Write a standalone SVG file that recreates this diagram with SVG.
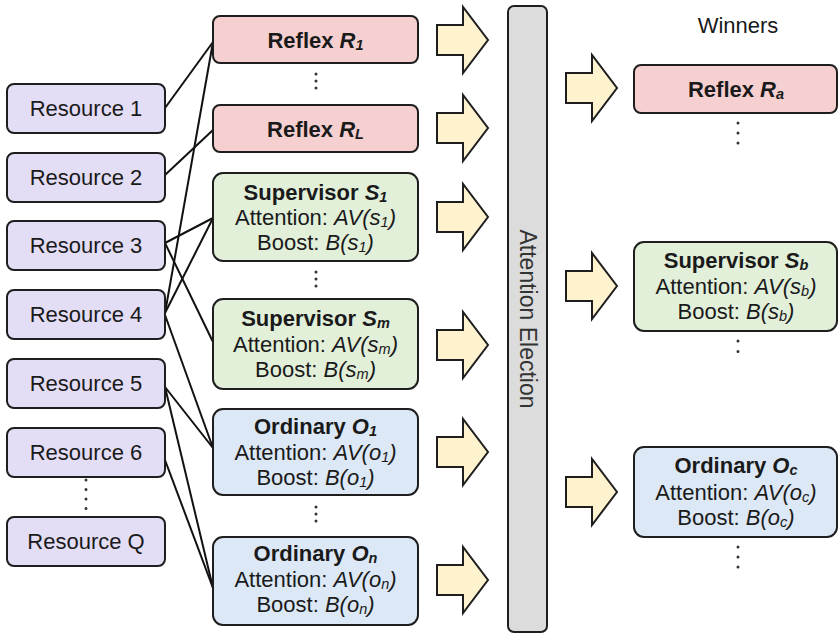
<svg xmlns="http://www.w3.org/2000/svg" width="839" height="634" viewBox="0 0 839 634">
<style>
.t{font-family:"Liberation Sans",Arial,sans-serif;font-size:22px;fill:#1a1a1a;text-anchor:middle}
.b{font-weight:bold}
.i{font-style:italic}
.sub{font-size:14.5px}
.box{stroke:#1e1e1e;stroke-width:2}
.res{fill:#e3ddf6}
.ref{fill:#f6d0d0}
.sup{fill:#e2f0da}
.ord{fill:#dce8f5}
.arr{fill:#fff3cf;stroke:#1e1e1e;stroke-width:2;stroke-linejoin:miter}
.con{stroke:#111;stroke-width:2;fill:none}
.dots{stroke:#333;stroke-width:3;stroke-linecap:round;stroke-dasharray:0 7;fill:none}
</style>
<defs>
<path id="bigarrow" d="M0,-15 H26 V-33 L51,0 L26,33 V15 H0 Z"/>
</defs>

<g id="connectors">
<line class="con" x1="165" y1="108" x2="213" y2="42"/>
<line class="con" x1="165" y1="313" x2="213" y2="42"/>
<line class="con" x1="165" y1="175" x2="213" y2="130"/>
<line class="con" x1="165" y1="243" x2="213" y2="218"/>
<line class="con" x1="165" y1="313" x2="213" y2="218"/>
<line class="con" x1="165" y1="243" x2="213" y2="342"/>
<line class="con" x1="165" y1="315" x2="213" y2="448"/>
<line class="con" x1="165" y1="387" x2="213" y2="448"/>
<line class="con" x1="165" y1="387" x2="213" y2="588"/>
<line class="con" x1="165" y1="460" x2="213" y2="588"/>
</g>

<g id="resource1"><rect class="box res" x="7" y="84" width="158" height="49" rx="7"/><text class="t" x="86" y="116">Resource 1</text></g>
<g id="resource2"><rect class="box res" x="7" y="153" width="158" height="49" rx="7"/><text class="t" x="86" y="185">Resource 2</text></g>
<g id="resource3"><rect class="box res" x="7" y="221" width="158" height="49" rx="7"/><text class="t" x="86" y="253">Resource 3</text></g>
<g id="resource4"><rect class="box res" x="7" y="290" width="158" height="49" rx="7"/><text class="t" x="86" y="322">Resource 4</text></g>
<g id="resource5"><rect class="box res" x="7" y="359" width="158" height="49" rx="7"/><text class="t" x="86" y="391">Resource 5</text></g>
<g id="resource6"><rect class="box res" x="7" y="428" width="158" height="49" rx="7"/><text class="t" x="86" y="460">Resource 6</text></g>
<g id="resourceQ"><rect class="box res" x="7" y="517" width="158" height="49" rx="7"/><text class="t" x="86" y="549">Resource Q</text></g>
<line class="dots" x1="86" y1="480" x2="86" y2="510" style="stroke-dasharray:0 9.5"/>

<g id="reflexR1"><rect class="box ref" x="213" y="16" width="205" height="47" rx="7"/>
<text class="t b" x="315.5" y="48">Reflex <tspan class="i">R<tspan class="sub" dy="2">1</tspan></tspan></text></g>
<line class="dots" x1="316" y1="74" x2="316" y2="95"/>
<g id="reflexRL"><rect class="box ref" x="213" y="105" width="205" height="47" rx="7"/>
<text class="t b" x="315.5" y="137">Reflex <tspan class="i">R<tspan class="sub" dy="2">L</tspan></tspan></text></g>

<g id="supervisorS1"><rect class="box sup" x="213" y="173" width="205" height="88" rx="10"/>
<text class="t b" x="315.5" y="200">Supervisor <tspan class="i">S<tspan class="sub" dy="2">1</tspan></tspan></text>
<text class="t" x="315.5" y="225">Attention: <tspan class="i">AV(s<tspan class="sub" dy="2">1</tspan><tspan dy="-2">)</tspan></tspan></text>
<text class="t" x="315.5" y="250">Boost: <tspan class="i">B(s<tspan class="sub" dy="2">1</tspan><tspan dy="-2">)</tspan></tspan></text></g>
<line class="dots" x1="316" y1="272" x2="316" y2="293"/>
<g id="supervisorSm"><rect class="box sup" x="213" y="299" width="205" height="90" rx="10"/>
<text class="t b" x="315.5" y="326">Supervisor <tspan class="i">S<tspan class="sub" dy="2">m</tspan></tspan></text>
<text class="t" x="315.5" y="352">Attention: <tspan class="i">AV(s<tspan class="sub" dy="2">m</tspan><tspan dy="-2">)</tspan></tspan></text>
<text class="t" x="315.5" y="377">Boost: <tspan class="i">B(s<tspan class="sub" dy="2">m</tspan><tspan dy="-2">)</tspan></tspan></text></g>

<g id="ordinaryO1"><rect class="box ord" x="213" y="409" width="205" height="86" rx="10"/>
<text class="t b" x="315.5" y="434">Ordinary <tspan class="i">O<tspan class="sub" dy="2">1</tspan></tspan></text>
<text class="t" x="315.5" y="460">Attention: <tspan class="i">AV(o<tspan class="sub" dy="2">1</tspan><tspan dy="-2">)</tspan></tspan></text>
<text class="t" x="315.5" y="485">Boost: <tspan class="i">B(o<tspan class="sub" dy="2">1</tspan><tspan dy="-2">)</tspan></tspan></text></g>
<line class="dots" x1="316" y1="507" x2="316" y2="528"/>
<g id="ordinaryOn"><rect class="box ord" x="213" y="537" width="205" height="88" rx="10"/>
<text class="t b" x="315.5" y="561">Ordinary <tspan class="i">O<tspan class="sub" dy="2">n</tspan></tspan></text>
<text class="t" x="315.5" y="587">Attention: <tspan class="i">AV(o<tspan class="sub" dy="2">n</tspan><tspan dy="-2">)</tspan></tspan></text>
<text class="t" x="315.5" y="612">Boost: <tspan class="i">B(o<tspan class="sub" dy="2">n</tspan><tspan dy="-2">)</tspan></tspan></text></g>

<g id="inputArrows">
<use href="#bigarrow" class="arr" x="437" y="40"/>
<use href="#bigarrow" class="arr" x="437" y="128"/>
<use href="#bigarrow" class="arr" x="437" y="217"/>
<use href="#bigarrow" class="arr" x="437" y="345"/>
<use href="#bigarrow" class="arr" x="437" y="452"/>
<use href="#bigarrow" class="arr" x="437" y="580"/>
</g>

<g id="attentionElection"><rect x="508" y="6" width="39" height="626" rx="6" fill="#dcdcdc" stroke="#1e1e1e" stroke-width="2"/>
<text class="t" transform="translate(527.5,319) rotate(90)" dominant-baseline="central" style="fill:#333;font-size:23px">Attention Election</text></g>

<g id="outputArrows">
<use href="#bigarrow" class="arr" x="566" y="88"/>
<use href="#bigarrow" class="arr" x="566" y="286"/>
<use href="#bigarrow" class="arr" x="566" y="492"/>
</g>

<text class="t" x="738" y="33">Winners</text>

<g id="reflexRa"><rect class="box ref" x="634" y="65" width="203" height="48" rx="7"/>
<text class="t b" x="736" y="97">Reflex <tspan class="i">R<tspan class="sub" dy="2">a</tspan></tspan></text></g>
<line class="dots" x1="738" y1="123" x2="738" y2="153" style="stroke-dasharray:0 10"/>

<g id="supervisorSb"><rect class="box sup" x="634" y="242" width="203" height="89" rx="10"/>
<text class="t b" x="736" y="268">Supervisor <tspan class="i">S<tspan class="sub" dy="2">b</tspan></tspan></text>
<text class="t" x="736" y="294">Attention: <tspan class="i">AV(s<tspan class="sub" dy="2">b</tspan><tspan dy="-2">)</tspan></tspan></text>
<text class="t" x="736" y="319">Boost: <tspan class="i">B(s<tspan class="sub" dy="2">b</tspan><tspan dy="-2">)</tspan></tspan></text></g>
<line class="dots" x1="738" y1="341" x2="738" y2="362" style="stroke-dasharray:0 10.5"/>

<g id="ordinaryOc"><rect class="box ord" x="634" y="447" width="203" height="90" rx="10"/>
<text class="t b" x="736" y="473">Ordinary <tspan class="i">O<tspan class="sub" dy="2">c</tspan></tspan></text>
<text class="t" x="736" y="500">Attention: <tspan class="i">AV(o<tspan class="sub" dy="2">c</tspan><tspan dy="-2">)</tspan></tspan></text>
<text class="t" x="736" y="525">Boost: <tspan class="i">B(o<tspan class="sub" dy="2">c</tspan><tspan dy="-2">)</tspan></tspan></text></g>
<line class="dots" x1="738" y1="547" x2="738" y2="577" style="stroke-dasharray:0 10"/>
</svg>
